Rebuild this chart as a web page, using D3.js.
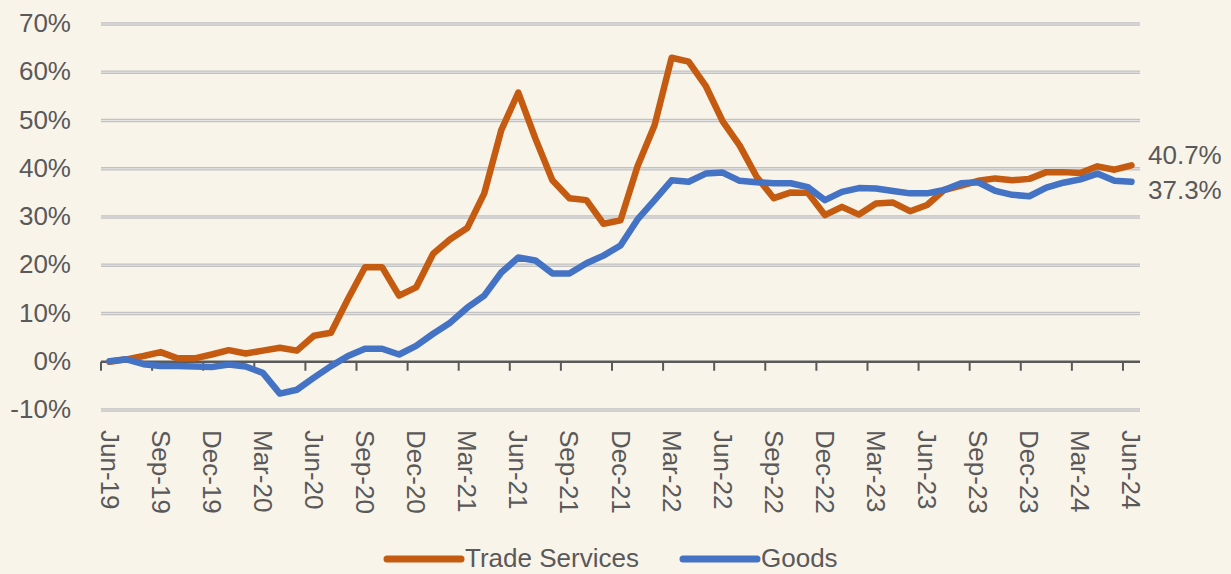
<!DOCTYPE html>
<html>
<head>
<meta charset="utf-8">
<script src="https://cdn.jsdelivr.net/npm/d3@7"></script>
<style>
  html, body { margin: 0; padding: 0; background: #F9F4E9; }
  svg { display: block; }
</style>
</head>
<body>
<div id="chart"></div>
<script>
// monthly categories Jun-19 .. Jun-24
const months = ["Jun-19","Jul-19","Aug-19","Sep-19","Oct-19","Nov-19","Dec-19",
  "Jan-20","Feb-20","Mar-20","Apr-20","May-20","Jun-20","Jul-20","Aug-20","Sep-20","Oct-20","Nov-20","Dec-20",
  "Jan-21","Feb-21","Mar-21","Apr-21","May-21","Jun-21","Jul-21","Aug-21","Sep-21","Oct-21","Nov-21","Dec-21",
  "Jan-22","Feb-22","Mar-22","Apr-22","May-22","Jun-22","Jul-22","Aug-22","Sep-22","Oct-22","Nov-22","Dec-22",
  "Jan-23","Feb-23","Mar-23","Apr-23","May-23","Jun-23","Jul-23","Aug-23","Sep-23","Oct-23","Nov-23","Dec-23",
  "Jan-24","Feb-24","Mar-24","Apr-24","May-24","Jun-24"];

const tradeServices = [0.0, 0.5, 1.2, 2.0, 0.7, 0.7, 1.5,
  2.4, 1.7, 2.3, 2.9, 2.3, 5.4, 6.0, 13.0, 19.6, 19.6, 13.7, 15.4,
  22.4, 25.4, 27.7, 34.9, 48.0, 55.8, 46.3, 37.6, 33.9, 33.5, 28.6, 29.3,
  40.5, 49.0, 63.0, 62.2, 57.2, 49.8, 44.8, 38.3, 33.9, 35.1, 35.0, 30.4,
  32.1, 30.5, 32.8, 33.0, 31.2, 32.5, 35.6, 36.5, 37.5, 38.0, 37.6, 37.9,
  39.3, 39.3, 39.1, 40.5, 39.8, 40.7];

const goods = [0.1, 0.5, -0.5, -0.9, -0.9, -1.0, -1.1,
  -0.6, -1.0, -2.3, -6.6, -5.8, -3.3, -0.9, 1.2, 2.7, 2.7, 1.5, 3.3,
  5.8, 8.1, 11.2, 13.7, 18.5, 21.6, 21.0, 18.3, 18.3, 20.4, 22.0, 24.1,
  29.5, 33.5, 37.6, 37.3, 39.0, 39.2, 37.5, 37.2, 37.0, 37.0, 36.2, 33.5,
  35.2, 36.0, 35.9, 35.4, 34.9, 34.9, 35.6, 37.0, 37.2, 35.4, 34.6, 34.3,
  36.1, 37.1, 37.8, 39.0, 37.5, 37.3];

const yTicks = [-10, 0, 10, 20, 30, 40, 50, 60, 70];
const seriesNames = ["Trade Services", "Goods"];
const seriesColors = ["#C55A11", "#4472C4"];

const W = 1231, H = 574;
const font = "'Liberation Sans', Arial, sans-serif";
const textColor = "#595959";

const svg = d3.select("#chart").append("svg")
  .attr("width", W).attr("height", H)
  .style("background", "#F9F4E9");

const x = d3.scaleBand().domain(months).range([101, 1140]).paddingInner(0).paddingOuter(0);
const y = d3.scaleLinear().domain([-10, 70]).range([410, 24]);
const cx = m => x(m) + x.bandwidth() / 2;

// gridlines
const grid = svg.append("g");
yTicks.filter(t => t !== 0).forEach(t => {
  grid.append("line")
    .attr("x1", x.range()[0]).attr("x2", x.range()[1])
    .attr("y1", y(t)).attr("y2", y(t))
    .attr("stroke", "#C2C2C2").attr("stroke-width", 3.5);
  grid.append("line")
    .attr("x1", x.range()[0]).attr("x2", x.range()[1])
    .attr("y1", y(t)).attr("y2", y(t))
    .attr("stroke", "#E4E4E4").attr("stroke-width", 1);
});

// y labels
svg.append("g").selectAll("text")
  .data(yTicks).join("text")
  .attr("x", 71).attr("y", d => y(d) - 1)
  .attr("text-anchor", "end")
  .attr("dominant-baseline", "central")
  .style("font-family", font).style("font-size", "26px")
  .style("fill", textColor)
  .text(d => d + "%");

// zero axis with ticks at category boundaries every 3 months
const axisG = svg.append("g");
axisG.append("line")
  .attr("x1", x.range()[0]).attr("x2", x.range()[1])
  .attr("y1", y(0)).attr("y2", y(0))
  .attr("stroke", "#595959").attr("stroke-width", 2.5);
months.forEach((m, i) => {
  if (i % 3 !== 0) return;
  axisG.append("line")
    .attr("x1", x(m)).attr("x2", x(m))
    .attr("y1", y(0)).attr("y2", y(0) + 9)
    .attr("stroke", "#595959").attr("stroke-width", 2);
});

// x labels (rotated)
svg.append("g").selectAll("text")
  .data(months.filter((m, i) => i % 3 === 0)).join("text")
  .attr("transform", d => "translate(" + cx(d) + ",430) rotate(90)")
  .attr("text-anchor", "start")
  .attr("dominant-baseline", "central")
  .style("font-family", font).style("font-size", "26px")
  .style("fill", textColor)
  .text(d => d);

// lines
const line = d3.line().x((d, i) => cx(months[i])).y(d => y(d));
[tradeServices, goods].forEach((s, si) => {
  svg.append("path")
    .datum(s)
    .attr("d", line)
    .attr("fill", "none")
    .attr("stroke", seriesColors[si])
    .attr("stroke-width", 6.5)
    .attr("stroke-linejoin", "round")
    .attr("stroke-linecap", "round");
});

// end labels
svg.append("text")
  .attr("x", 1148).attr("y", 164)
  .style("font-family", font).style("font-size", "26px").style("fill", textColor)
  .text(d3.format(".1f")(tradeServices[tradeServices.length - 1]) + "%");
svg.append("text")
  .attr("x", 1148).attr("y", 199)
  .style("font-family", font).style("font-size", "26px").style("fill", textColor)
  .text(d3.format(".1f")(goods[goods.length - 1]) + "%");

// legend
const legendX = [387, 683];
seriesNames.forEach((n, i) => {
  svg.append("line")
    .attr("x1", legendX[i]).attr("x2", legendX[i] + 74)
    .attr("y1", 559).attr("y2", 559)
    .attr("stroke", seriesColors[i]).attr("stroke-width", 7)
    .attr("stroke-linecap", "round");
  svg.append("text")
    .attr("x", legendX[i] + 78).attr("y", 567)
    .style("font-family", font).style("font-size", "26px").style("fill", textColor)
    .text(n);
});
</script>
</body>
</html>
